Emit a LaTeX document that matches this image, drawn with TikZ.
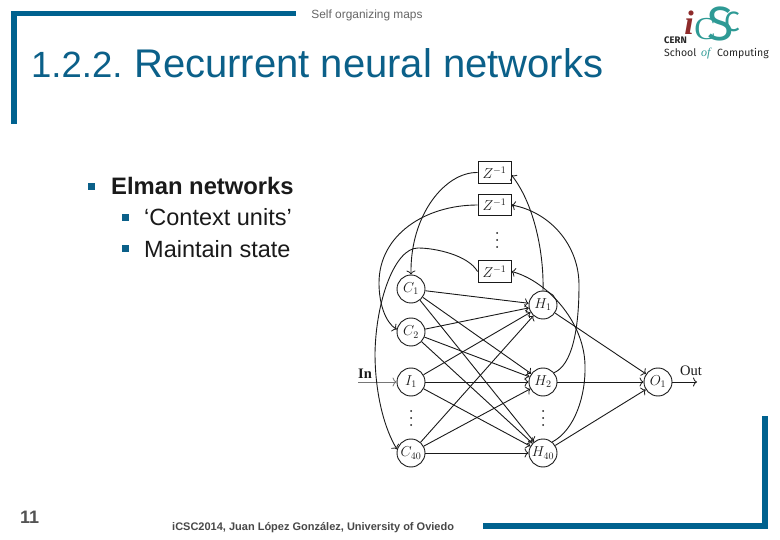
\documentclass[tikz,border=0pt]{standalone}
\usepackage{fontspec}
\usetikzlibrary{arrows.meta}
\setmainfont{Liberation Sans}
\newfontfamily\logofont{Fira Sans}
\newfontfamily\logoserif{Liberation Serif}
\newcommand{\fsz}[1]{\fontsize{#1}{#1}\selectfont}
\definecolor{framec}{HTML}{00628F}
\definecolor{titlec}{HTML}{0B6089}
\definecolor{bulletc}{HTML}{0B6089}
\definecolor{bodyc}{HTML}{1A1A1A}
\definecolor{netc}{HTML}{1A1A1A}
\definecolor{logot}{HTML}{2E9A95}
\definecolor{logor}{HTML}{8E2B2B}
\tikzset{
  frame/.style={fill=framec,draw=none},
  lbl/.style={inner sep=0,anchor=base west},
  neuron/.style={circle,draw=netc,line width=0.9pt,minimum size=28pt,inner sep=0pt,font=\fsz{14}\color{netc}},
  delay/.style={rectangle,draw=netc,line width=0.9pt,minimum width=33pt,minimum height=21.5pt,inner sep=0pt,font=\fsz{14}\color{netc}},
  link/.style={draw=netc,line width=0.9pt,-{To[length=4pt,width=9pt,line width=0.8pt]}},
  netdot/.style={fill=netc,draw=none},
  sq/.style={fill=bulletc,draw=none,minimum size=7pt,inner sep=0pt,rectangle},
  body/.style={lbl,font=\fsz{23.5}\color{bodyc}},
  nett/.style={inner sep=0,anchor=base west,font=\logoserif\fsz{14.5}\color{netc}},
}
\begin{document}
\begin{tikzpicture}[x=1pt,y=-1pt]
\useasboundingbox (0,0) rectangle (780,540);
\fill[white] (0,0) rectangle (780,540);
% frames
\fill[frame] (11,11) rectangle (296,16.5);
\fill[frame] (11,11) rectangle (17,124);
\fill[frame] (762,416) rectangle (768,529);
\fill[frame] (483,523) rectangle (768,529);
% header and title
\node[inner sep=0,font=\fsz{11.9}\color{black!60}] (hdr) at (367,15) {Self organizing maps};
\node[lbl,font=\fsz{36.5}\color{titlec}] (titlenum) at (31,78) {1.2.2.};
\node[lbl,font=\fsz{40}\color{titlec}] (title) at (134,78) {Recurrent neural networks};
% bullets
\node[sq] (b1) at (91.5,186.5) {};
\node[body,font=\fsz{23.8}\bfseries\color{bodyc}] (t1) at (111,194.5) {Elman networks};
\node[sq] (b2) at (125,218) {};
\node[body] (t2) at (144,226) {‘Context units’};
\node[sq] (b3) at (125,249) {};
\node[body] (t3) at (144,257.5) {Maintain state};
% footer
\node[lbl,font=\fsz{18}\bfseries\color{bodyc!75}] (pg) at (20,523.5) {11};
\node[lbl,font=\fsz{11}\bfseries\color{bodyc!80}] (foot) at (172,530) {iCSC2014, Juan López González, University of Oviedo};
% logo
\node[inner sep=0,font=\logoserif\fsz{34}\bfseries\itshape\color{logor}] (li) at (689,23) {i};
\node[inner sep=0,font=\logoserif\fsz{32}\color{logot}] (lc1) at (705,29) {C};
\node[inner sep=0,font=\logofont\fsz{48}\color{logot}] (ls) at (721,24) {S};
\node[inner sep=0,font=\logofont\fsz{28}\color{logot}] (lc2) at (732,22) {C};
\node[lbl,font=\logofont\fsz{9.5}\bfseries\color{black!85}] (lcern) at (664,43.5) {CERN};
\node[lbl,font=\logofont\fsz{10.5}\color{black!85}] (lschool) at (664,57) {School};
\node[lbl,font=\logoserif\fsz{12}\itshape\color{logot}] (lof) at (701,57) {of};
\node[lbl,font=\logofont\fsz{10.5}\color{black!85}] (lcomp) at (717,57) {Computing};
% neurons
\node[neuron] (c1) at (411,289) {$C_1$};
\node[neuron] (c2) at (411,332) {$C_2$};
\node[neuron] (i1) at (411,382) {$I_1$};
\node[neuron] (c40) at (411,453) {$C_{40}$};
\node[neuron] (h1) at (543,305) {$H_1$};
\node[neuron] (h2) at (543,382) {$H_2$};
\node[neuron] (h40) at (543,453) {$H_{40}$};
\node[neuron] (o1) at (658,382) {$O_1$};
\node[delay] (z1) at (494.5,172.5) {$Z^{-1}$};
\node[delay] (z2) at (494.5,205) {$Z^{-1}$};
\node[delay] (z3) at (494.5,271.5) {$Z^{-1}$};
\foreach \y in {233,240,247}{ \fill[netdot] (497,\y) circle (1pt); }
\foreach \y in {411,418,425}{ \fill[netdot] (411,\y) circle (1pt); \fill[netdot] (543,\y) circle (1pt); }
\coordinate (inp) at (358,382);
\coordinate (outp) at (697,382);
\node[nett,font=\logoserif\fsz{14.5}\bfseries\color{netc}] (lin) at (358,379) {In};
\node[nett] (lout) at (680,375) {Out};
% feed-forward links
\foreach \s in {c1,c2,i1,c40}{
  \foreach \t in {h1,h2,h40}{
    \draw[link] (\s) -- (\t);
  }
}
\foreach \s in {h1,h2,h40}{ \draw[link] (\s) -- (o1); }
\draw[link,draw=netc!60] (inp) -- (i1);
\draw[link] (o1) -- (outp);
% recurrent links
\draw[link] (z1.west) .. controls (445,172) and (410,215) .. (c1.north);
\draw[link] (z2.west) .. controls (425,205) and (379,235) .. (379,283) .. controls (379,303) and (385,322) .. (c2.170);
\draw[link] (z3.west) .. controls (468,255) and (435,248) .. (418,248) .. controls (395,248) and (376,300) .. (375,353) .. controls (375,395) and (385,430) .. (c40.165);
\draw[link] (h1.north) .. controls (544,255) and (535,205) .. (z1.east |- 0,175);
\draw[link] (h2.40) .. controls (572,365) and (579,330) .. (579,285) .. controls (579,245) and (550,212) .. (z2.east);
\draw[link] (h40.50) .. controls (575,430) and (586,395) .. (585,365) .. controls (584,320) and (545,280) .. (z3.east);
\end{tikzpicture}
\end{document}
